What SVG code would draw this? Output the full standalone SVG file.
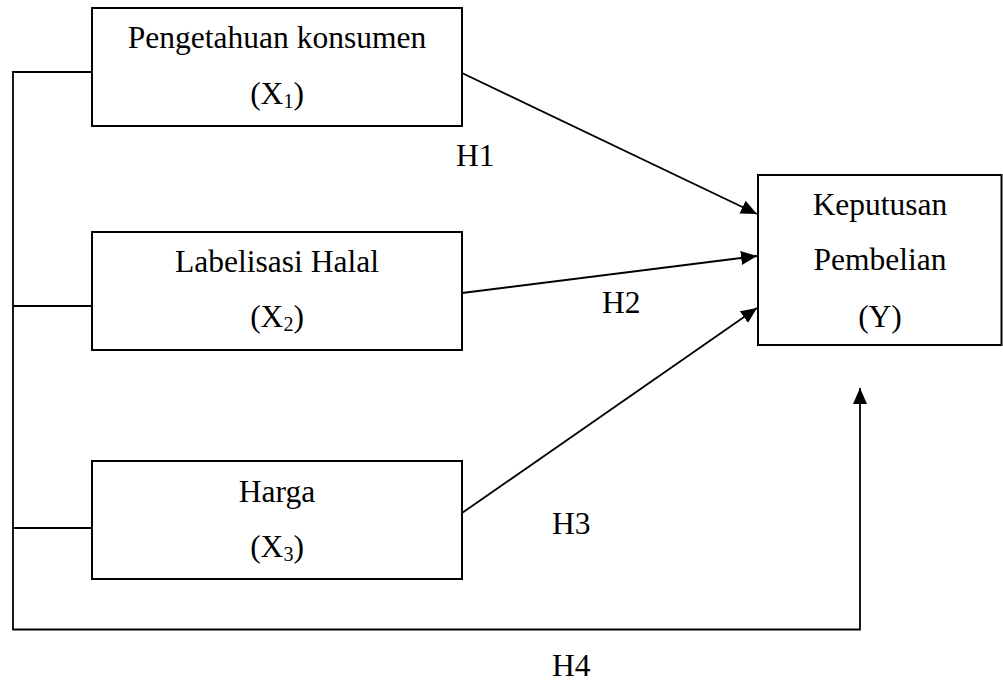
<svg xmlns="http://www.w3.org/2000/svg" width="1003" height="682" viewBox="0 0 1003 682">
<defs>
<style>
.box{fill:#fff;stroke:#000;stroke-width:2}
.ln{fill:none;stroke:#000;stroke-width:1.8}
text{font-family:"Liberation Serif","Times New Roman",serif;font-size:31.5px;fill:#000}
.c{text-anchor:middle}
.sub{font-size:20px}
</style>
<marker id="ah" markerUnits="userSpaceOnUse" markerWidth="17" markerHeight="15" refX="16" refY="7" orient="auto">
<path d="M0,0 L16,7 L0,14 Z" fill="#000"/>
</marker>
</defs>
<rect width="1003" height="682" fill="#fff"/>
<g id="connectors">
<polyline class="ln" points="92,72 13,72 13,629.5 860,629.5 860,388" marker-end="url(#ah)"/>
<line class="ln" x1="13" y1="306" x2="92" y2="306"/>
<line class="ln" x1="13" y1="528" x2="92" y2="528"/>
<line class="ln" x1="462" y1="73" x2="757" y2="214" marker-end="url(#ah)"/>
<line class="ln" x1="462" y1="293" x2="757" y2="256" marker-end="url(#ah)"/>
<line class="ln" x1="462" y1="513" x2="757" y2="308" marker-end="url(#ah)"/>
<text x="456" y="166">H1</text>
<text x="602" y="313">H2</text>
<text x="552" y="534">H3</text>
<text x="552" y="676">H4</text>
</g>
<g id="x1">
<rect class="box" x="92" y="8" width="370" height="118"/>
<text class="c" x="277" y="48">Pengetahuan konsumen</text>
<text class="c" x="277" y="104">(X<tspan class="sub" dy="4">1</tspan><tspan dy="-4">)</tspan></text>
</g>
<g id="x2">
<rect class="box" x="92" y="232" width="370" height="118"/>
<text class="c" x="277" y="272">Labelisasi Halal</text>
<text class="c" x="277" y="327">(X<tspan class="sub" dy="4">2</tspan><tspan dy="-4">)</tspan></text>
</g>
<g id="x3">
<rect class="box" x="92" y="461" width="370" height="118"/>
<text class="c" x="277" y="502">Harga</text>
<text class="c" x="277" y="557">(X<tspan class="sub" dy="4">3</tspan><tspan dy="-4">)</tspan></text>
</g>
<g id="y">
<rect class="box" x="758" y="175" width="243.5" height="170"/>
<text class="c" x="880" y="215">Keputusan</text>
<text class="c" x="880" y="270">Pembelian</text>
<text class="c" x="880" y="327">(Y)</text>
</g>
</svg>
